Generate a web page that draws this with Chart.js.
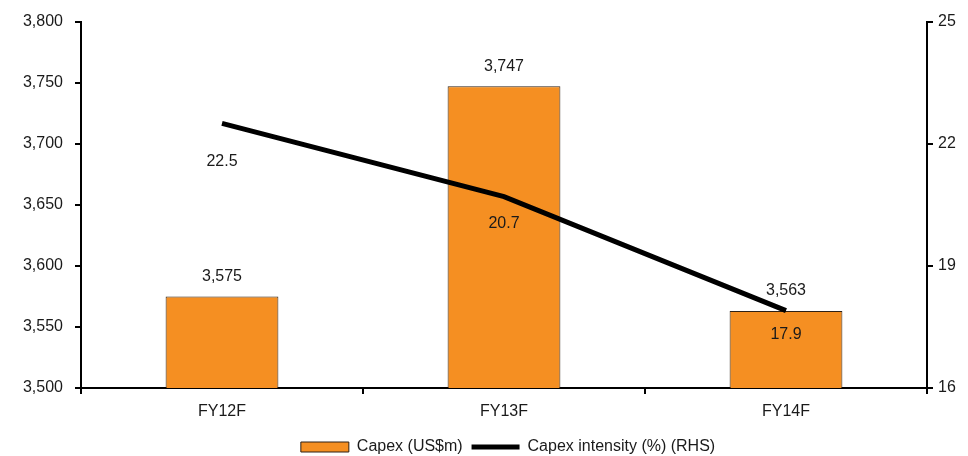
<!DOCTYPE html>
<html>
<head>
<meta charset="utf-8">
<script src="https://cdn.jsdelivr.net/npm/chart.js@4"></script>
<style>
  html, body { margin: 0; padding: 0; background: #fff; }
  #wrap { width: 968px; height: 456px; }
</style>
</head>
<body>
<div id="wrap"><canvas id="myChart" width="968" height="456"></canvas></div>
<script>
var categories = ['FY12F', 'FY13F', 'FY14F'];
var capex = [3575, 3747, 3563];
var intensity = [22.5, 20.7, 17.9];
var leftTicks = [3500, 3550, 3600, 3650, 3700, 3750, 3800];
var rightTicks = [16, 19, 22, 25];

// how far below each line point its label sits
var lineLabelOffset = [38, 27, 24];

Chart.defaults.font.family = '"Liberation Sans", Arial, sans-serif';
Chart.defaults.font.size = 16;
Chart.defaults.color = '#1a1a1a';

var valueLabels = {
    id: 'valueLabels',
    afterDatasetsDraw: function (chart) {
        var ctx = chart.ctx;
        ctx.save();
        ctx.font = '16px "Liberation Sans", Arial, sans-serif';
        ctx.fillStyle = '#1a1a1a';
        ctx.textAlign = 'center';
        ctx.textBaseline = 'middle';
        chart.getDatasetMeta(0).data.forEach(function (bar, i) {
            ctx.fillText(capex[i].toLocaleString('en-US'), bar.x, bar.y - 20);
        });
        chart.getDatasetMeta(1).data.forEach(function (pt, i) {
            ctx.fillText(intensity[i].toFixed(1), pt.x, pt.y + lineLabelOffset[i]);
        });
        ctx.restore();
    }
};

// centre the legend under the plot area and drop it closer to the bottom edge
var legendShift = {
    id: 'legendShift',
    afterLayout: function (chart) {
        var lg = chart.legend;
        var dx = (chart.chartArea.left + chart.chartArea.right) / 2 - (lg.left + lg.right) / 2;
        lg.left += dx + 4;
        lg.right += dx + 4;
        lg.top += 9;
        lg.bottom += 9;
    }
};

var ctx = document.getElementById('myChart').getContext('2d');

var myChart = new Chart(ctx, {
    type: 'bar',
    data: {
        labels: categories,
        datasets: [{
            label: 'Capex (US$m)',
            data: capex,
            backgroundColor: '#F58F22',
            borderColor: '#2e2116',
            borderWidth: 1,
            categoryPercentage: 1,
            barPercentage: 0.4,
            yAxisID: 'y',
            order: 2
        }, {
            type: 'line',
            label: 'Capex intensity (%) (RHS)',
            data: intensity,
            borderColor: '#000',
            backgroundColor: '#000',
            borderWidth: 5,
            pointRadius: 0,
            tension: 0,
            yAxisID: 'y1',
            order: 1
        }]
    },
    options: {
        responsive: false,
        animation: false,
        layout: { padding: { top: 20, bottom: 0 } },
        scales: {
            x: {
                grid: {
                    offset: true,
                    drawOnChartArea: false,
                    color: '#000',
                    lineWidth: 2,
                    tickLength: 6,
                    tickColor: '#000'
                },
                border: { color: '#000', width: 2 },
                ticks: { padding: 8 },
                afterFit: function (scale) { scale.height = 42; }
            },
            y: {
                position: 'left',
                min: 3500,
                max: 3800,
                afterBuildTicks: function (scale) {
                    scale.ticks = leftTicks.map(function (v) { return { value: v }; });
                },
                ticks: {
                    padding: 12,
                    callback: function (v) { return v.toLocaleString('en-US'); }
                },
                grid: {
                    drawOnChartArea: false,
                    color: '#000',
                    lineWidth: 2,
                    tickLength: 6
                },
                border: { color: '#000', width: 2 },
                afterFit: function (scale) { scale.width = 81; }
            },
            y1: {
                position: 'right',
                min: 16,
                max: 25,
                afterBuildTicks: function (scale) {
                    scale.ticks = rightTicks.map(function (v) { return { value: v }; });
                },
                ticks: { padding: 5 },
                grid: {
                    drawOnChartArea: false,
                    color: '#000',
                    lineWidth: 2,
                    tickLength: 6
                },
                border: { color: '#000', width: 2 },
                afterFit: function (scale) { scale.width = 41; }
            }
        },
        plugins: {
            tooltip: { enabled: false },
            legend: {
                position: 'bottom',
                labels: {
                    usePointStyle: true,
                    pointStyleWidth: 48,
                    boxWidth: 48,
                    boxHeight: 10,
                    padding: 0,
                    color: '#1a1a1a',
                    generateLabels: function (chart) {
                        var items = Chart.defaults.plugins.legend.labels.generateLabels(chart);
                        items.sort(function (a, b) { return a.datasetIndex - b.datasetIndex; });
                        items[0].pointStyle = 'rect';
                        items[0].lineWidth = 1;
                        items[0].text += '  ';
                        items[1].pointStyle = 'line';
                        items[1].lineWidth = 5;
                        return items;
                    }
                }
            }
        }
    },
    plugins: [valueLabels, legendShift]
});
</script>
</body>
</html>
